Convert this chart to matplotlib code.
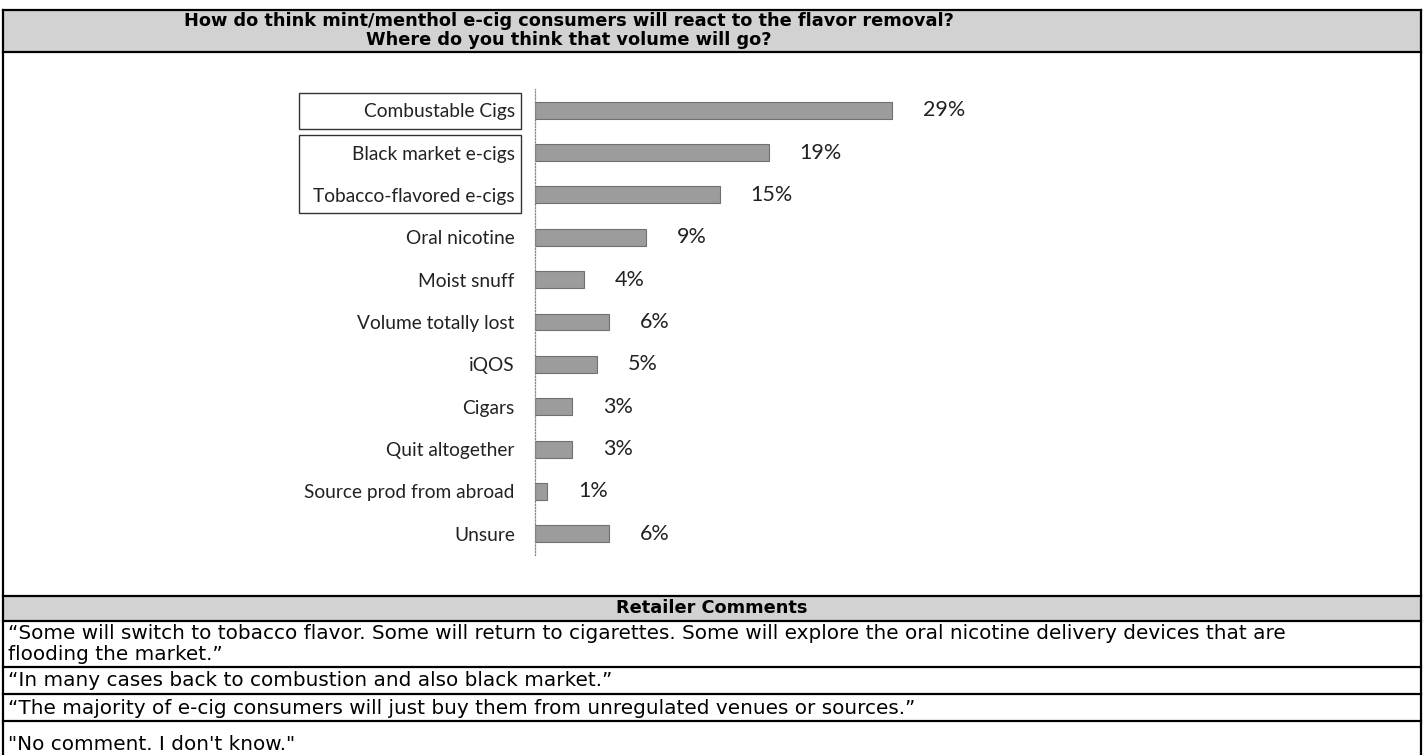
import matplotlib.pyplot as plt
from matplotlib.patches import Rectangle

plt.rcParams['font.family'] = ['DejaVu Sans']

# chart data
categories = ["Combustable Cigs", "Black market e-cigs", "Tobacco-flavored e-cigs",
              "Oral nicotine", "Moist snuff", "Volume totally lost", "iQOS",
              "Cigars", "Quit altogether", "Source prod from abroad", "Unsure"]
shares = [29, 19, 15, 9, 4, 6, 5, 3, 3, 1, 6]

title_lines = ["How do think mint/menthol e-cig consumers will react to the flavor removal?",
               "Where do you think that volume will go?"]
comments_header = "Retailer Comments"
comments = [
    "\u201cSome will switch to tobacco flavor. Some will return to cigarettes. Some will explore the oral nicotine delivery devices that are\nflooding the market.\u201d",
    "\u201cIn many cases back to combustion and also black market.\u201d",
    "\u201cThe majority of e-cig consumers will just buy them from unregulated venues or sources.\u201d",
    "\"No comment. I don't know.\"",
]

W, H = 1424, 755
fig = plt.figure(figsize=(W / 100, H / 100), dpi=100)

# page layer in pixel coordinates
bg = fig.add_axes([0, 0, 1, 1])
bg.set_xlim(0, W)
bg.set_ylim(H, 0)
bg.axis('off')

band = '#d2d2d2'
L, R = 3, 1421
bg.add_patch(Rectangle((L, 10), R - L, 42, facecolor=band, edgecolor='none'))
bg.add_patch(Rectangle((L, 596), R - L, 25, facecolor=band, edgecolor='none'))

for y in [10, 52, 596, 621, 667, 694, 721]:
    bg.plot([L, R], [y, y], color='black', lw=1.6)
bg.plot([L, L], [10, H], color='black', lw=1.6)
bg.plot([R, R], [10, H], color='black', lw=1.6)

bg.text(569, 21, title_lines[0], ha='center', va='center', fontsize=12.8, fontweight='bold')
bg.text(569, 40, title_lines[1], ha='center', va='center', fontsize=12.8, fontweight='bold')
bg.text(712, 608, comments_header, ha='center', va='center', fontsize=12.8, fontweight='bold')

cfs = 14.4
bg.text(8, 644, comments[0], ha='left', va='center', fontsize=cfs, linespacing=1.08)
bg.text(8, 681, comments[1], ha='left', va='center', fontsize=cfs)
bg.text(8, 708, comments[2], ha='left', va='center', fontsize=cfs)
bg.text(8, 744, comments[3], ha='left', va='center', fontsize=cfs)

# label boxes
bg.add_patch(Rectangle((299, 93), 222, 36, facecolor='none', edgecolor='#333333', lw=1.0))
bg.add_patch(Rectangle((299, 135), 222, 78, facecolor='none', edgecolor='#333333', lw=1.0))

# bar chart
ax = fig.add_axes([535 / W, 1 - 555 / H, 394 / W, 466 / H])
ax.patch.set_alpha(0)
ypos = list(range(len(categories)))
ax.barh(ypos, shares, height=0.4, color='#9c9c9c', edgecolor='#707070', lw=0.8)
for y, v in zip(ypos, shares):
    ax.text(v + 2.5, y, f"{v}%", ha='left', va='center', fontsize=15.5, family='Lato', color='#222222')
ax.set_xlim(0, 32)
ax.set_ylim(len(categories) - 0.5, -0.5)
ax.set_yticks(ypos)
ax.set_yticklabels(categories, family='Lato', fontsize=13.8, color='#222222')
ax.tick_params(axis='y', length=0, pad=14.5)
ax.set_xticks([])
for s in ['top', 'right', 'bottom']:
    ax.spines[s].set_visible(False)
ax.spines['left'].set_linestyle((0, (1, 1.5)))
ax.spines['left'].set_color('#888888')
ax.spines['left'].set_linewidth(0.9)

fig.savefig("out.png", dpi=100)
